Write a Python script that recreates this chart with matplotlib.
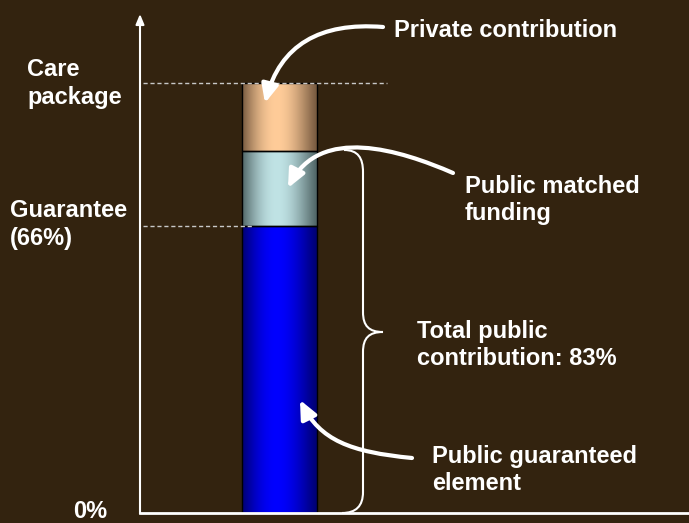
import numpy as np
import matplotlib
matplotlib.use("Agg")
import matplotlib.pyplot as plt
from matplotlib.path import Path
from matplotlib.patches import FancyArrowPatch, PathPatch

# ---- data ----
segments = ["Public guaranteed element", "Public matched funding", "Private contribution"]
values = [66.7, 17.5, 15.8]          # percent of care package
guarantee_level = 66.7
package_level = 100
left_labels = [("Care", "package"), ("Guarantee", "(66%)")]
zero_label = "0%"

BG = "#33230F"
FONT = "Liberation Sans"
FS = 17

fig = plt.figure(figsize=(6.89, 5.23), dpi=100, facecolor=BG)

# data axes (percent) - full figure; 0% at pixel 513, 100% at pixel 83
ax = fig.add_axes([0, 0, 1, 1])
ax.set_facecolor(BG)
ax.axis("off")
ppu = 4.3
ax.set_xlim(0, 689)
ax.set_ylim(-(523 - 513) / ppu, 513 / ppu)

# overlay axes in pixel coordinates for annotations
ov = fig.add_axes([0, 0, 1, 1], facecolor="none")
ov.axis("off")
ov.set_xlim(0, 689)
ov.set_ylim(523, 0)

# ---- stacked bar with cylinder shading ----
shades = [("#000070", "#0000FF"), ("#506566", "#C0E3E5"), ("#76593F", "#FFCC99")]
bottom = 0
bar_x, bar_w = 279.5, 75
t = np.linspace(0, 1, 300)
prof = np.sin(np.pi * t ** 0.9) ** 1.1
for val, (dark, bright) in zip(values, shades):
    b = ax.bar(bar_x, val, width=bar_w, bottom=bottom, facecolor="none",
               edgecolor="black", linewidth=1.0, zorder=3)
    patch = b.patches[0]
    d = np.array(matplotlib.colors.to_rgb(dark))
    br = np.array(matplotlib.colors.to_rgb(bright))
    img = (d[None, :] + (br - d)[None, :] * prof[:, None])[None, :, :]
    x0 = bar_x - bar_w / 2
    im = ax.imshow(img, extent=[x0, x0 + bar_w, bottom, bottom + val],
                   aspect="auto", zorder=2, interpolation="bilinear")
    im.set_clip_path(patch)
    bottom += val
ax.set_xlim(0, 689)
ax.set_ylim(-(523 - 513) / ppu, 513 / ppu)

# dashed reference lines
ax.hlines(package_level, 143, 387, colors="#c8c8c8", linestyles=(0, (3, 2)), lw=1, zorder=4)
ax.hlines(guarantee_level, 143, 252, colors="#c8c8c8", linestyles=(0, (3, 2)), lw=1, zorder=4)

# axes lines
ov.plot([140, 689], [513, 513], color="white", lw=2, solid_capstyle="butt", zorder=5)
ov.annotate("", xy=(140, 14), xytext=(140, 514),
            arrowprops=dict(arrowstyle="-|>,head_length=0.6,head_width=0.25",
                            color="white", lw=1.5, shrinkA=0, shrinkB=0,
                            mutation_scale=10))

# curved arrows
def curved_arrow(p0, p1, p2, p3):
    path = Path([p0, p1, p2, p3], [Path.MOVETO, Path.CURVE4, Path.CURVE4, Path.CURVE4])
    a = FancyArrowPatch(path=path, arrowstyle="-|>,head_length=1.1,head_width=0.5",
                        mutation_scale=10, color="white", lw=3, shrinkA=0, shrinkB=0,
                        transform=ov.transData, zorder=6)
    ov.add_patch(a)

curved_arrow((383, 27), (320, 22), (280, 45), (265, 103))
curved_arrow((453, 173), (400, 150), (320, 125), (288, 188))
curved_arrow((412, 458), (350, 452), (320, 440), (300, 400))

# curly brace
verts = [(344, 150), (358, 150), (363, 158), (363, 172),
         (363, 312),
         (363, 326), (369, 332), (383, 332),
         (369, 332), (363, 338), (363, 352),
         (363, 492),
         (363, 506), (356, 513), (342, 513)]
codes = [Path.MOVETO, Path.CURVE4, Path.CURVE4, Path.CURVE4,
         Path.LINETO,
         Path.CURVE4, Path.CURVE4, Path.CURVE4,
         Path.CURVE4, Path.CURVE4, Path.CURVE4,
         Path.LINETO,
         Path.CURVE4, Path.CURVE4, Path.CURVE4]
ov.add_patch(PathPatch(Path(verts, codes), facecolor="none", edgecolor="white", lw=1.5, zorder=5))

# texts
def txt(x, y, s):
    ov.text(x, y, s, color="white", fontsize=FS, fontweight="bold", family=FONT,
            ha="left", va="baseline", zorder=7)

txt(394, 37, segments[2])
txt(465, 193, "Public matched")
txt(465, 220, "funding")
txt(417, 338, "Total public")
txt(417, 365, "contribution: 83%")
txt(432, 463, "Public guaranteed")
txt(432, 490, "element")
txt(27, 76, left_labels[0][0])
txt(27, 104, left_labels[0][1])
txt(10, 217, left_labels[1][0])
txt(10, 245, left_labels[1][1])
txt(73, 518, zero_label)

fig.savefig("out.png", dpi=100, facecolor=BG)
